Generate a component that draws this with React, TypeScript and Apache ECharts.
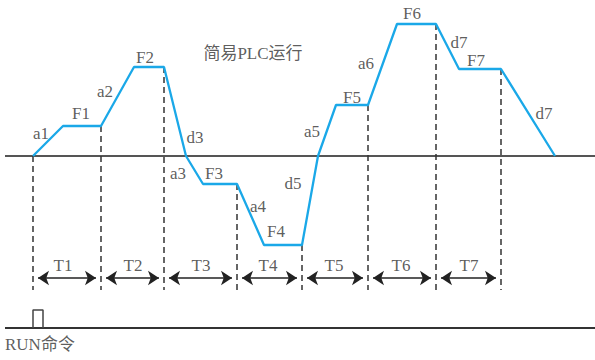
import React, { useEffect, useRef } from "react";
import * as echarts from "echarts";

// Speed profile of the simple PLC run: time breakpoints and frequency (zero line = 0)
const times = [33, 63, 101, 134, 164, 186, 203, 237, 264, 302, 318, 336, 368, 397, 436, 459, 501, 555];
const freqs = [0, 30, 30, 89, 89, 0, -28, -28, -89, -89, 0, 51, 51, 132, 132, 87, 87, 0];

// Stage boundaries (T1..T7) and the frequency where each dashed line starts
const stageBounds = [33, 101, 164, 237, 302, 368, 436, 501];
const boundTop = [0, 30, 89, -28, -89, 51, 132, 87];
const stageNames = ["T1", "T2", "T3", "T4", "T5", "T6", "T7"];
const stageLabelX = [63, 133, 201, 268, 334, 401, 469];

// Segment labels (accel / decel / frequency) and their anchor points
const segLabels = ["a1", "F1", "a2", "F2", "d3", "a3", "F3", "d5", "a4", "F4", "a5", "F5", "a6", "F6", "d7", "F7", "d7"];
const segLabelX = [41, 81, 105, 145, 195, 178, 214, 293, 258, 276, 312, 352, 366, 412, 459, 476, 544];
const segLabelY = [23, 43, 65, 99, 19, -17, -17, -27, -50, -75, 25, 59, 93, 143, 114, 96, 43];

const FONT = "'Liberation Serif', 'Noto Sans CJK SC', serif";

export default function App() {
  const ref = useRef<HTMLDivElement>(null);
  useEffect(() => {
    if (!ref.current) return;
    const chart = echarts.init(ref.current, undefined, { renderer: "svg" });
    const dashBottom = -134;
    const arrowY = -122;
    const series: any[] = [];

    // zero axis line
    series.push({
      type: "line",
      data: [[5, 0], [595, 0]],
      showSymbol: false,
      silent: true,
      lineStyle: { color: "#555", width: 2 },
    });
    // RUN command baseline
    series.push({
      type: "line",
      data: [[5, -172], [595, -172]],
      showSymbol: false,
      silent: true,
      lineStyle: { color: "#333", width: 2 },
    });
    // RUN pulse box
    series.push({
      type: "line",
      data: [[33, -172], [33, -154], [43, -154], [43, -172]],
      showSymbol: false,
      silent: true,
      lineStyle: { color: "#444", width: 1.5 },
    });
    // dashed stage boundaries
    stageBounds.forEach((x, i) => {
      series.push({
        type: "line",
        data: [[x, boundTop[i]], [x, dashBottom]],
        showSymbol: false,
        silent: true,
        lineStyle: { color: "#333", width: 1.5, type: [6, 4] },
      });
    });
    // stage arrows
    series.push({
      type: "line",
      data: [],
      silent: true,
      markLine: {
        silent: true,
        symbol: ["arrow", "arrow"],
        symbolSize: 11,
        label: { show: false },
        lineStyle: { color: "#222", width: 1.5, type: "solid" },
        data: stageNames.map((n, i) => [
          { coord: [stageBounds[i] + 5, arrowY], name: n },
          { coord: [stageBounds[i + 1] - 5, arrowY] },
        ]),
      },
    });
    // blue speed profile
    series.push({
      type: "line",
      data: times.map((t, i) => [t, freqs[i]]),
      showSymbol: false,
      silent: true,
      lineStyle: { color: "#1aa8e8", width: 2.3 },
    });
    // texts
    const textData: any[] = [];
    segLabels.forEach((s, i) => textData.push({ name: s, value: [segLabelX[i], segLabelY[i]] }));
    stageNames.forEach((s, i) => textData.push({ name: s, value: [stageLabelX[i], -109] }));
    textData.push({ name: "简易PLC运行", value: [253, 103] });
    textData.push({ name: "RUN命令", value: [5, -188], label: { align: "left" } });
    series.push({
      type: "scatter",
      symbolSize: 0,
      silent: true,
      data: textData,
      label: {
        show: true,
        position: "inside",
        formatter: "{b}",
        color: "#333",
        fontSize: 17,
        fontFamily: FONT,
      },
    });

    chart.setOption({
      animation: false,
      textStyle: { fontFamily: FONT },
      grid: { left: 0, right: 0, top: 0, bottom: 0 },
      xAxis: { type: "value", min: 0, max: 595, show: false },
      yAxis: { type: "value", min: -204, max: 156, show: false },
      series,
    });
    return () => chart.dispose();
  }, []);
  return (
    <div
      ref={ref}
      style={{ position: "fixed", left: 0, top: 0, width: 595, height: 360, background: "#fff" }}
    />
  );
}
